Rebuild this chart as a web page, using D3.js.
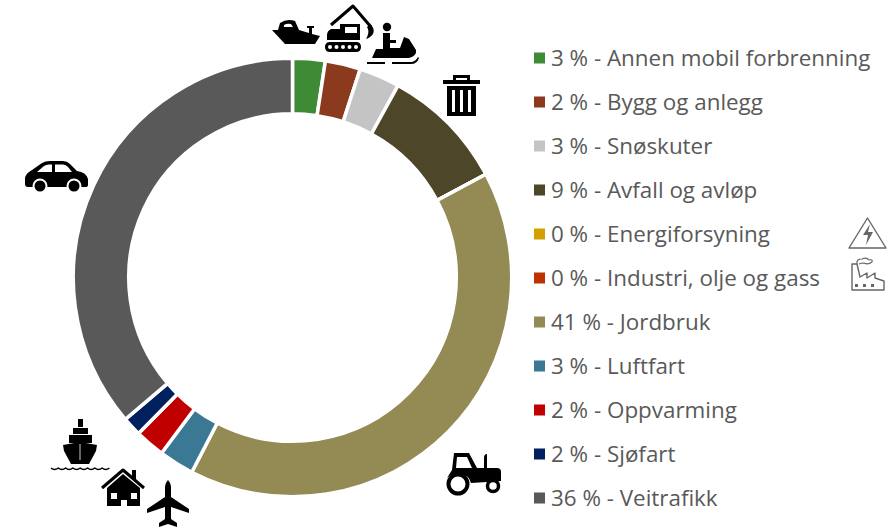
<!DOCTYPE html>
<html>
<head>
<meta charset="utf-8">
<style>
  html, body { margin: 0; padding: 0; background: #fff; }
  svg { display: block; }
  .legend text { font-family: "Open Sans", sans-serif; font-size: 22.4px; fill: #595959; }
  .icons { filter: blur(0.4px); }
</style>
</head>
<body>
<svg width="891" height="528"></svg>
<script src="https://cdn.jsdelivr.net/npm/d3@7"></script>
<script>
  // legend text, as printed
  var categories = ["Annen mobil forbrenning", "Bygg og anlegg", "Snøskuter", "Avfall og avløp", "Energiforsyning",
    "Industri, olje og gass", "Jordbruk", "Luftfart", "Oppvarming", "Sjøfart", "Veitrafikk"];
  var labels = [3, 2, 3, 9, 0, 0, 41, 3, 2, 2, 36];
  var values = [2.4, 2.6, 3.0, 9.2, 0, 0, 40.4, 2.6, 2.2, 1.4, 36.2];
  var colors = ["#3f8a35", "#8b3a1e", "#c4c4c4", "#4e4628", "#d4a000", "#be3200", "#948a54", "#3a7893", "#c00000", "#002060", "#595959"];

  var svg = d3.select("svg");

  var pie = d3.pie().sort(null).value(function(d) { return d; });
  var arc = d3.arc().innerRadius(163.75).outerRadius(219.25);

  svg.append("g")
    .attr("transform", "translate(292.5,277.5)")
    .selectAll("path")
    .data(pie(values))
    .enter().append("path")
    .attr("d", arc)
    .attr("fill", function(d, i) { return colors[i]; })
    .attr("stroke", "#fff")
    .attr("stroke-width", 3.5);

  var y = d3.scalePoint().domain(categories).range([58, 498]);

  var legend = svg.append("g").attr("class", "legend")
    .selectAll("g")
    .data(categories)
    .enter().append("g")
    .attr("transform", function(d) { return "translate(534," + y(d) + ")"; });

  legend.append("rect")
    .attr("x", 0).attr("y", -5.5)
    .attr("width", 11).attr("height", 11)
    .attr("fill", function(d, i) { return colors[i]; });

  legend.append("text")
    .attr("x", 17).attr("y", 8)
    .text(function(d, i) { return labels[i] + " % - " + d; });

  // pictograms, drawn by hand in their own local boxes
  var icons = svg.append("g").attr("class", "icons");

  function icon(x, y, parts) {
    var g = icons.append("g").attr("transform", "translate(" + x + "," + y + ")");
    parts.forEach(function(p) {
      var e;
      if (p.r) e = g.append("circle").attr("cx", p.c[0]).attr("cy", p.c[1]).attr("r", p.r);
      else e = g.append("path").attr("d", p.d);
      e.attr("fill", p.fill || "#000");
      if (p.stroke) e.attr("stroke", p.stroke).attr("stroke-width", p.w || 1).attr("stroke-linejoin", "round");
      if (p.fill == "none") e.attr("fill", "none");
    });
  }

  // boat
  icon(272, 18, [
    {d: "M0,12 L6,12 L8,5 Q15,0 23,3 L27,12 L37,15 V10 H35 V8 H42 V10 H40 V16 L48,18 L43,26 H13 Z"},
    {d: "M12,7 Q15,5 19,6 L21,9 H12 Z", fill: "#fff"}
  ]);
  // excavator
  icon(325, 5, [
    {d: "M6,20 L28,1 L46,22", fill: "none", stroke: "#000", w: 3},
    {d: "M45,19 C51,24 50,31 41,34 C44,29 44,25 42,22 Z"},
    {d: "M2,30 Q2,26 6,24 L15,24 V19 H35 V35 H2 Z"},
    {d: "M20,22 H32 V28 H20 Z", fill: "#fff"},
    {d: "M5,37 H31 Q36,37 36,42 Q36,47 31,47 H5 Q0,47 0,42 Q0,37 5,37 Z"},
    {c: [5, 42], r: 2, fill: "#fff"}, {c: [11.5, 42], r: 2, fill: "#fff"}, {c: [18, 42], r: 2, fill: "#fff"},
    {c: [24.5, 42], r: 2, fill: "#fff"}, {c: [31, 42], r: 2, fill: "#fff"}
  ]);
  // snowmobile
  icon(367, 22, [
    {c: [20, 5], r: 4.2},
    {d: "M16,11 H23 V18 H29 V21 H23 V26 H33 L37,15 L42,17 L49,28 Q50,34 42,36 H5 L9,27 H16 Z"},
    {d: "M0,40 H18 V42 H0 Z"},
    {d: "M25,40 H45 Q49,39 51,35 L52,36 Q50,42 44,42 H25 Z"}
  ]);
  // bin
  icon(443, 73, [
    {d: "M10,7 V2 H27 V7 H24 V5 H13 V7 Z"},
    {d: "M0,7 H37 V11 H0 Z"},
    {d: "M4,13 H33 V43 H4 Z M9,17 V39 H12 V17 Z M17,17 V39 H20 V17 Z M25,17 V39 H28 V17 Z"}
  ]);
  // car
  icon(25, 161, [
    {d: "M0,17 Q1,12 7,9 L17,2 Q20,0 25,0 H38 Q42,0 45,3 L52,10 Q61,11 63,18 V24 Q63,26 60,26 H3 Q0,26 0,23 Z"},
    {d: "M12,11 L19,5 Q21,3.5 24,3.5 H27 V11 Z", fill: "#fff"},
    {d: "M30,3.5 H38 Q41,3.5 43,6 L47,11 H30 Z", fill: "#fff"},
    {c: [15, 25], r: 7.5, fill: "#fff"}, {c: [15, 25], r: 5.5},
    {c: [49, 25], r: 7.5, fill: "#fff"}, {c: [49, 25], r: 5.5}
  ]);
  // tractor
  icon(447, 451, [
    {d: "M7,2 H22 L30,17 H37 V7 Q37,3 40,3 V17 H50 Q54,17 54,21 V30 L40,31 L24,32 Q22,24 12,22 Q6,22 0,27 L5,19 Z"},
    {d: "M10,6 H20 L25,17 H9 Z", fill: "#fff"},
    {c: [11, 33], r: 9.5, fill: "none", stroke: "#000", w: 4},
    {c: [46, 35], r: 5.5, fill: "none", stroke: "#000", w: 3.5}
  ]);
  // ship
  icon(50, 418, [
    {d: "M28,1 H33 V9 H28 Z"},
    {d: "M23,10 H38 V16 H23 Z"},
    {d: "M19,17 H42 V25 H19 Z"},
    {d: "M13,27 L30,24 L47,27 L46,33 L39,46 H21 L14,33 Z"},
    {d: "M30,26 V42", fill: "none", stroke: "#fff", w: 0.8},
    {d: "M1,50 q3.6,3 7.3,0 q3.6,3 7.3,0 q3.6,3 7.3,0 q3.6,3 7.3,0 q3.6,3 7.3,0 q3.6,3 7.3,0 q3.6,3 7.3,0 q3.6,3 7.3,0", fill: "none", stroke: "#000", w: 1.5}
  ]);
  // house
  icon(100, 468, [
    {d: "M2,20 L23,2 L44,20", fill: "none", stroke: "#000", w: 3},
    {d: "M32,2 H36 V13 L32,10 Z"},
    {d: "M7,20 L23,6 L40,20 V38 H7 Z M11,25 V31 H17 V25 Z M31,25 V31 H37 V25 Z M21,38 H27 V32 H21 Z"}
  ]);
  // plane
  icon(147, 480, [
    {d: "M21,0 Q24,3 24,8 V17 L42,29 V33 L24,27 V39 L30,43 V47 L21,44 L12,47 V43 L18,39 V27 L0,33 V29 L18,17 V8 Q18,3 21,0 Z"}
  ]);
  // warning sign and factory, both thin grey outlines
  icon(848, 217, [
    {d: "M19.5,1 L38,31 H1 Z", fill: "none", stroke: "#666", w: 1.4},
    {d: "M22,7 L15,18 H20 L18,28 L25,15 H20 Z", fill: "#666"}
  ]);
  icon(850, 258, [
    {d: "M2,32 V6 H7 L10,19 L17,15 V20 L25,15 V20 L34,23 V32 Z", fill: "none", stroke: "#666", w: 1.4},
    {d: "M7,6 Q6,1 12,1 Q17,-1 19,2 Q23,1 22,4 Q18,7 14,5 Q11,5 9,6", fill: "none", stroke: "#666", w: 1.2},
    {d: "M5,26 h3 v3 h-3 Z M13,26 h3 v3 h-3 Z M21,26 h3 v3 h-3 Z", fill: "#666"}
  ]);
</script>
</body>
</html>
